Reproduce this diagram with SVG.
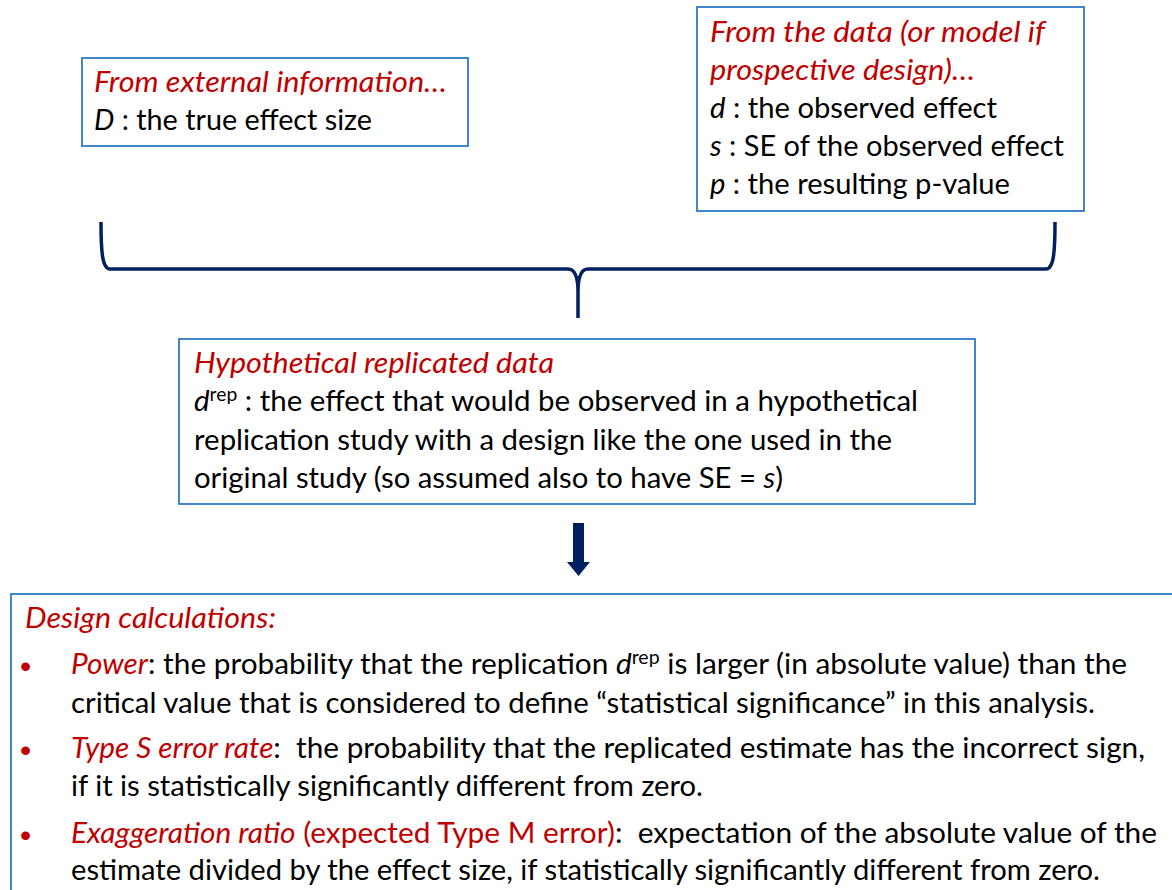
<svg xmlns="http://www.w3.org/2000/svg" width="1172" height="890" viewBox="0 0 1172 890">
<style>
  .box { fill: #ffffff; stroke: #2E7BC4; stroke-width: 1.8; }
  text { font-family: Lato, "Open Sans", "Liberation Sans", sans-serif; font-size: 29px; fill: #000000; white-space: pre; }
  .red { fill: #C00000; }
  .it { font-style: italic; }
  .sup { font-size: 19px; }
  .bullet { font-family: "Liberation Sans", Arial, sans-serif; font-size: 32px; fill: #C00000; }
  .brace { fill: none; stroke: #002060; stroke-width: 3.5; stroke-linecap: butt; stroke-linejoin: round; }
  .arrow { fill: #002060; }
</style>
<rect width="1172" height="890" fill="#ffffff"/>

<g id="external-info">
  <rect class="box" x="82" y="58" width="386" height="88"/>
  <text x="94" y="92" textLength="353" lengthAdjust="spacingAndGlyphs" class="red it">From external information…</text>
  <text x="94" y="130" textLength="278" lengthAdjust="spacingAndGlyphs"><tspan class="it">D</tspan> : the true effect size</text>
</g>

<g id="data-info">
  <rect class="box" x="697" y="7" width="387" height="204"/>
  <text x="710" y="42" textLength="335" lengthAdjust="spacingAndGlyphs" class="red it">From the data (or model if</text>
  <text x="710" y="80" textLength="265" lengthAdjust="spacingAndGlyphs" class="red it">prospective design)…</text>
  <text x="710" y="118" textLength="287" lengthAdjust="spacingAndGlyphs"><tspan class="it">d</tspan> : the observed effect</text>
  <text x="710" y="156" textLength="354" lengthAdjust="spacingAndGlyphs"><tspan class="it">s</tspan> : SE of the observed effect</text>
  <text x="710" y="194" textLength="300" lengthAdjust="spacingAndGlyphs"><tspan class="it">p</tspan> : the resulting p-value</text>
</g>

<g id="connectors">
  <path class="brace" d="M101,222 C101,250 102,269 110,269 L568,269 C575,269 578,276 578,292 L578,318 M578,292 C578,276 581,269 588,269 L1046,269 C1054,269 1055,250 1055,222"/>
  <path class="arrow" d="M573,523 L584,523 L584,562 L590,562 L578.5,576 L567,562 L573,562 Z"/>
</g>

<g id="replicated-data">
  <rect class="box" x="179" y="339" width="796" height="165"/>
  <text x="194" y="373" textLength="360" lengthAdjust="spacingAndGlyphs" class="red it">Hypothetical replicated data</text>
  <text x="194" y="411" textLength="724" lengthAdjust="spacingAndGlyphs"><tspan class="it">d</tspan><tspan class="sup" dy="-10">rep</tspan><tspan dy="10"> : the effect that would be observed in a hypothetical</tspan></text>
  <text x="194" y="450" textLength="698" lengthAdjust="spacingAndGlyphs">replication study with a design like the one used in the</text>
  <text x="194" y="488" textLength="589" lengthAdjust="spacingAndGlyphs">original study (so assumed also to have SE = <tspan class="it">s</tspan>)</text>
</g>

<g id="design-calculations">
  <rect class="box" x="11" y="594" width="1200" height="340"/>
  <text x="25" y="628" textLength="251" lengthAdjust="spacingAndGlyphs" class="red it">Design calculations:</text>
  <text class="bullet" x="20" y="677">•</text>
  <text x="71" y="674" textLength="1056" lengthAdjust="spacingAndGlyphs"><tspan class="red it">Power</tspan>: the probability that the replication <tspan class="it">d</tspan><tspan class="sup" dy="-10">rep</tspan><tspan dy="10"> is larger (in absolute value) than the</tspan></text>
  <text x="71" y="713" textLength="1024" lengthAdjust="spacingAndGlyphs">critical value that is considered to define “statistical significance” in this analysis.</text>
  <text class="bullet" x="20" y="761">•</text>
  <text x="71" y="758" textLength="1074" lengthAdjust="spacingAndGlyphs"><tspan class="red it">Type S error rate</tspan>:  the probability that the replicated estimate has the incorrect sign,</text>
  <text x="71" y="796" textLength="632" lengthAdjust="spacingAndGlyphs">if it is statistically significantly different from zero.</text>
  <text class="bullet" x="20" y="846">•</text>
  <text x="71" y="843" textLength="1086" lengthAdjust="spacingAndGlyphs"><tspan class="red it">Exaggeration ratio</tspan><tspan class="red"> (expected Type M error)</tspan>:  expectation of the absolute value of the</text>
  <text x="71" y="880" textLength="1029" lengthAdjust="spacingAndGlyphs">estimate divided by the effect size, if statistically significantly different from zero.</text>
</g>
</svg>
